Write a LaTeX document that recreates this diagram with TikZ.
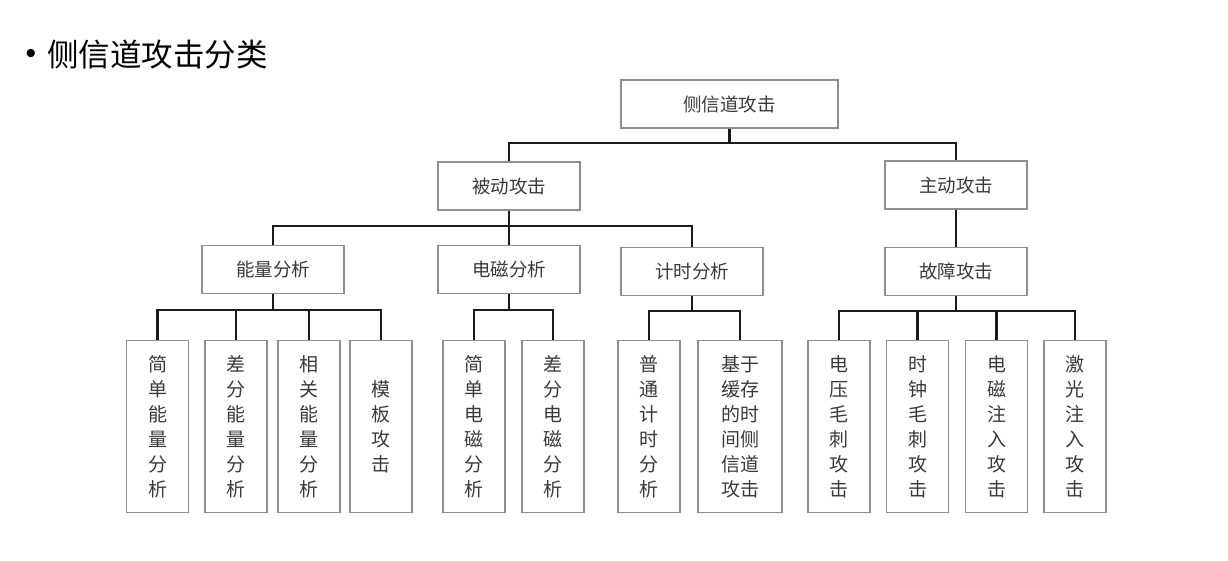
\documentclass[tikz,border=0pt]{standalone}
\usepackage{fontspec}
\usepackage{tikz}
\usetikzlibrary{positioning}
\newfontfamily\cjk{Noto Sans CJK SC}
\newfontfamily\dotfont{Liberation Sans}
\definecolor{boxgray}{HTML}{8E8E8E}
\definecolor{textgray}{HTML}{3A3A3A}
\definecolor{linedark}{HTML}{1A1A1A}

\begin{document}
\begin{tikzpicture}[
  x=1pt, y=-1pt,
  catbox/.style={draw=boxgray, line width=1.1pt, fill=white, minimum width=142pt, minimum height=48pt, inner sep=0pt, text=textgray, font=\cjk\fontsize{18.5}{22}\selectfont},
  leafbox/.style={draw=boxgray, line width=1.1pt, fill=white, minimum width=62pt, minimum height=172pt, inner sep=0pt, align=center, text=textgray, font=\cjk\fontsize{19}{25}\selectfont},
  conn/.style={draw=linedark, line width=2.2pt}
]
  \useasboundingbox (0,0) rectangle (1228,561);

  % heading
  \node[font=\dotfont\fontsize{30}{30}\selectfont] (dot) at (31,57) {•};
  \node[anchor=west, inner sep=0pt, font=\cjk\fontsize{31.5}{31.5}\selectfont] (title) at (47,55) {侧信道攻击分类};

  % tree
  \node[catbox, minimum width=217pt] (root) at (729.5,104) {侧信道攻击};
  \node[catbox] (pa) at (509,186) {被动攻击};
  \node[catbox] (aa) at (956,185) {主动攻击};
  \node[catbox] (en) at (273,269.5) {能量分析};
  \node[catbox] (em) at (509,269.5) {电磁分析};
  \node[catbox] (ti) at (692,271.5) {计时分析};
  \node[catbox] (fa) at (956,271.5) {故障攻击};

  \node[leafbox] (l1) at (157.5,426.5) {简\\单\\能\\量\\分\\析};
  \node[leafbox] (l2) at (236,426.5) {差\\分\\能\\量\\分\\析};
  \node[leafbox] (l3) at (309,426.5) {相\\关\\能\\量\\分\\析};
  \node[leafbox] (l4) at (381,426.5) {模\\板\\攻\\击};
  \node[leafbox] (l5) at (474,426.5) {简\\单\\电\\磁\\分\\析};
  \node[leafbox] (l6) at (553,426.5) {差\\分\\电\\磁\\分\\析};
  \node[leafbox] (l7) at (649,426.5) {普\\通\\计\\时\\分\\析};
  \node[leafbox, minimum width=84pt] (l8) at (740,426.5) {基于\\缓存\\的时\\间侧\\信道\\攻击};
  \node[leafbox] (l9) at (839,426.5) {电\\压\\毛\\刺\\攻\\击};
  \node[leafbox] (l10) at (917.5,426.5) {时\\钟\\毛\\刺\\攻\\击};
  \node[leafbox] (l11) at (996.5,426.5) {电\\磁\\注\\入\\攻\\击};
  \node[leafbox] (l12) at (1075,426.5) {激\\光\\注\\入\\攻\\击};

  % connectors
  \coordinate (j0) at (729.5,143);
  \coordinate (j1) at (509,226);
  \coordinate (j2) at (273,310);
  \coordinate (j3) at (509,310);
  \coordinate (j4) at (692,311);
  \coordinate (j5) at (956,311);

  \draw[conn] (root.south) -- (j0);
  \draw[conn] (j0) -| (pa.north);
  \draw[conn] (j0) -| (aa.north);

  \draw[conn] (pa.south) -- (em.north);
  \draw[conn] (j1) -| (en.north);
  \draw[conn] (j1) -| (ti.north);
  \draw[conn] (aa.south) -- (fa.north);

  \draw[conn] (en.south) -- (j2);
  \foreach \n in {l1,l2,l3,l4} \draw[conn] (j2) -| (\n.north);
  \draw[conn] (em.south) -- (j3);
  \foreach \n in {l5,l6} \draw[conn] (j3) -| (\n.north);
  \draw[conn] (ti.south) -- (j4);
  \foreach \n in {l7,l8} \draw[conn] (j4) -| (\n.north);
  \draw[conn] (fa.south) -- (j5);
  \foreach \n in {l9,l10,l11,l12} \draw[conn] (j5) -| (\n.north);
\end{tikzpicture}
\end{document}
